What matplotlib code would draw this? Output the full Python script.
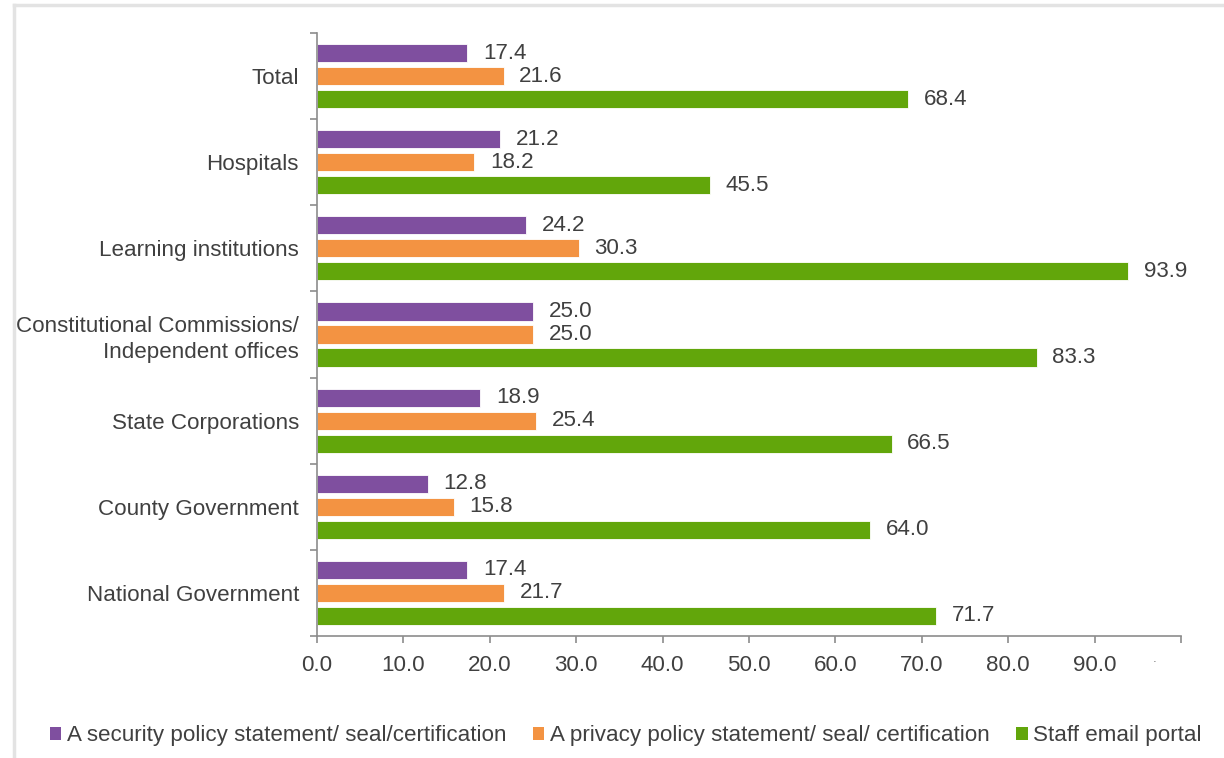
import matplotlib.pyplot as plt
from matplotlib.patches import Patch
from matplotlib.lines import Line2D

plt.rcParams['font.family'] = ['Liberation Sans', 'DejaVu Sans']

# --- Data ---
categories = ['Total', 'Hospitals', 'Learning institutions',
              'Constitutional Commissions/\nIndependent offices',
              'State Corporations', 'County Government', 'National Government']
security = [17.4, 21.2, 24.2, 25.0, 18.9, 12.8, 17.4]
privacy = [21.6, 18.2, 30.3, 25.0, 25.4, 15.8, 21.7]
email = [68.4, 45.5, 93.9, 83.3, 66.5, 64.0, 71.7]
series_names = ['A security policy statement/ seal/certification',
                'A privacy policy statement/ seal/ certification',
                'Staff email portal']
x_ticks = [0, 10, 20, 30, 40, 50, 60, 70, 80, 90, 100]
x_tick_labels = ['0.0', '10.0', '20.0', '30.0', '40.0', '50.0',
                 '60.0', '70.0', '80.0', '90.0', '']

colors = ['#7F4F9F', '#F39342', '#62A60B']
text_color = '#404040'
axis_color = '#8C8C8C'
fs = 16.1

fig = plt.figure(figsize=(12.24, 7.58), dpi=100)
ax = fig.add_axes([317 / 1224, 1 - 636 / 758, (1181 - 317) / 1224, (636 - 33) / 758])

bar_h = 0.21
offset = 0.267
ypos = list(range(len(categories)))
for k, (vals, col) in enumerate(zip([security, privacy, email], colors)):
    ys = [y + (k - 1) * offset for y in ypos]
    bars = ax.barh(ys, vals, height=bar_h, color=col, edgecolor='white', linewidth=0.6)
    for b, v in zip(bars, vals):
        ax.annotate(f'{v:.1f}', (b.get_width(), b.get_y() + b.get_height() / 2),
                    xytext=(11.3, 0), textcoords='offset points',
                    va='center', ha='left', fontsize=fs, color=text_color)

ax.set_xlim(0, 100)
ax.set_ylim(len(categories) - 0.5, -0.5)

# group boundaries get the tick marks, group centres get the labels
ax.set_yticks([i - 0.5 for i in range(len(categories) + 1)])
ax.set_yticklabels([])
ax.set_yticks(ypos, minor=True)
ylabels = ax.set_yticklabels(categories, minor=True, fontsize=fs, color=text_color)
for lbl in ylabels:
    lbl.set_linespacing(1.3)
ax.tick_params(axis='y', which='minor', length=0, pad=13)
ax.tick_params(axis='y', which='major', length=5, width=1.2, color=axis_color)

ax.set_xticks(x_ticks)
ax.set_xticklabels(x_tick_labels, fontsize=fs, color=text_color)
ax.tick_params(axis='x', length=5, width=1.2, color=axis_color, pad=9)

for side in ['top', 'right']:
    ax.spines[side].set_visible(False)
for side in ['left', 'bottom']:
    ax.spines[side].set_color(axis_color)
    ax.spines[side].set_linewidth(1.2)

# small stray mark beside the last tick
fig.text(1155 / 1224, 1 - 662 / 758, '\u00b7', fontsize=8, color=text_color,
         ha='center', va='center')

handles = [Patch(facecolor=c, edgecolor='none') for c in colors]
fig.legend(handles, series_names, loc='center left', ncol=3,
           bbox_to_anchor=(50 / 1224, 1 - 736 / 758), frameon=False,
           fontsize=fs, labelcolor=text_color, handlelength=0.5,
           handleheight=0.5, handletextpad=0.25, columnspacing=1.2,
           borderpad=0, borderaxespad=0)

# light frame along the top and left edges
fig.add_artist(Line2D([14 / 1224, 14 / 1224], [0, 1 - 5 / 758],
                      transform=fig.transFigure, color='#E3E3E3', linewidth=2.5))
fig.add_artist(Line2D([14 / 1224, 1], [1 - 5 / 758, 1 - 5 / 758],
                      transform=fig.transFigure, color='#E3E3E3', linewidth=2.5))

fig.savefig('out.png', dpi=100)
